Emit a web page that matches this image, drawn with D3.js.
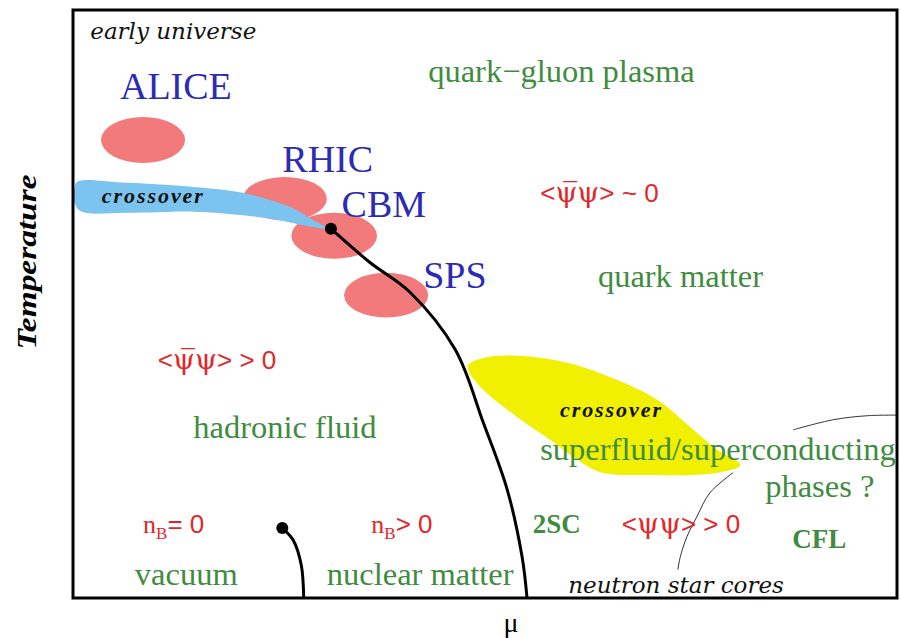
<!DOCTYPE html>
<html>
<head>
<meta charset="utf-8">
<script src="https://cdn.jsdelivr.net/npm/d3@7"></script>
<style>
body { margin: 0; background: #fff; }
</style>
</head>
<body>
<div id="diagram"></div>
<script>
//data (mu and T in arbitrary units, 0..100 across the frame)
var muBoundary = [31.3, 36.0, 40.9, 46.4, 49.8, 52.7, 54.5, 55.1];
var tBoundary = [62.8, 57.1, 52.0, 42.2, 29.8, 18.4, 7.0, 0];

var muNuclear = [25.4, 26.7, 27.7, 28.0];
var tNuclear = [11.9, 9.9, 5.6, 0];

var experiments = ["ALICE", "RHIC", "CBM", "SPS"];
var expMu = [8.5, 25.7, 31.7, 38.0];
var expT = [77.9, 67.9, 61.6, 51.5];
var expMuHalf = [5.1, 5.1, 5.2, 5.1];
var expTHalf = [3.9, 3.7, 3.9, 3.8];
var expLabelMu = [5.7, 25.4, 32.6, 42.5];
var expLabelT = [84.9, 72.5, 64.8, 52.7];

// blue crossover band (outline)
var bandMu = [0.5, 6.6, 14.6, 20.6, 26.7, 29.1, 31.0, 29.1, 24.8, 20.6, 14.6, 6.6, 0.9, 0.1, 0.2];
var bandT = [70.8, 70.6, 69.9, 68.9, 66.3, 64.3, 62.8, 63.1, 64.3, 65.1, 65.7, 65.5, 65.8, 67.7, 69.7];

// yellow crossover region (outline)
var crossMu = [47.9, 49.8, 53.9, 60.0, 66.0, 70.9, 74.9, 78.2, 81.0, 78.2, 70.0, 64.0, 61.2, 57.9, 53.9, 49.8];
var crossT = [39.4, 40.8, 41.2, 40.0, 37.1, 33.7, 29.1, 25.2, 22.6, 21.3, 20.9, 21.4, 23.5, 26.9, 30.8, 35.4];

// thin guide lines
var muStars = [80.1, 77.3, 75.7, 74.5, 73.7, 73.4];
var tStars = [21.3, 17.9, 13.8, 10.4, 7.0, 4.8];
var muCfl = [87.4, 92.2, 96.4, 100];
var tCfl = [28.6, 30.3, 31.0, 31.1];

// phase names
var phases = ["quark\u2212gluon plasma", "quark matter", "hadronic fluid", "vacuum",
    "nuclear matter", "superfluid/superconducting", "phases ?"];
var phaseMu = [43.1, 63.7, 14.6, 7.5, 30.8, 56.7, 84.0];
var phaseT = [87.8, 52.9, 27.2, 2.2, 2.2, 23.5, 17.2];

var pairings = ["2SC", "CFL"];
var pairMu = [55.8, 87.3];
var pairT = [11.0, 8.5];

// condensates
var condRel = ["~ 0", "> 0", "> 0"];
var condBar = [true, true, false];
var condMu = [56.7, 10.3, 66.6];
var condT = [67.4, 39.0, 11.0];

var densRel = ["= 0", "> 0"];
var densMu = [8.5, 36.2];
var densT = [11.0, 11.0];

var notes = ["early universe", "neutron star cores"];
var noteMu = [2.1, 60.1];
var noteT = [95.1, 0.85];

var crossLabelMu = [3.5, 59.1];
var crossLabelT = [67.2, 30.8];

//setup
var width = 901,
    height = 638;
var frameLeft = 73, frameRight = 897, frameTop = 10, frameBottom = 598;

var serif = "'Liberation Serif', 'Times New Roman', serif",
    sans = "'Liberation Sans', Arial, sans-serif";
var green = "#3f8c3f", red = "#e3262b", blue = "#2b2bb4";

var x = d3.scaleLinear().domain([0, 100]).range([frameLeft, frameRight]);
var y = d3.scaleLinear().domain([0, 100]).range([frameBottom, frameTop]);

var svg = d3.select("#diagram").append("svg")
    .attr("width", width)
    .attr("height", height);

var g = svg.append("g");

var line = d3.line()
    .x(function (d) { return x(d[0]); })
    .y(function (d) { return y(d[1]); });

//experiment blobs
g.selectAll(".blob").data(experiments)
    .enter().append("ellipse")
    .attr("class", "blob")
    .attr("cx", function (d, i) { return x(expMu[i]); })
    .attr("cy", function (d, i) { return y(expT[i]); })
    .attr("rx", function (d, i) { return x(expMuHalf[i]) - x(0); })
    .attr("ry", function (d, i) { return y(0) - y(expTHalf[i]); })
    .style("fill", "#f37a7a");

//crossover band and region
g.append("path")
    .attr("d", line.curve(d3.curveCatmullRomClosed)(d3.zip(bandMu, bandT)))
    .style("fill", "#7cc4f0");

g.append("path")
    .attr("d", line.curve(d3.curveCatmullRomClosed)(d3.zip(crossMu, crossT)))
    .style("fill", "#f0f000");

//thin lines
g.append("path")
    .attr("d", line.curve(d3.curveCatmullRom)(d3.zip(muStars, tStars)))
    .style("fill", "none").style("stroke", "#333").style("stroke-width", 1);
g.append("path")
    .attr("d", line.curve(d3.curveCatmullRom)(d3.zip(muCfl, tCfl)))
    .style("fill", "none").style("stroke", "#333").style("stroke-width", 1);

//phase boundaries
g.append("path")
    .attr("d", line.curve(d3.curveCatmullRom)(d3.zip(muBoundary, tBoundary)))
    .style("fill", "none").style("stroke", "#000").style("stroke-width", 3);
g.append("path")
    .attr("d", line.curve(d3.curveCatmullRom)(d3.zip(muNuclear, tNuclear)))
    .style("fill", "none").style("stroke", "#000").style("stroke-width", 3);

// end points
g.selectAll(".endpoint").data([[muBoundary[0], tBoundary[0]], [muNuclear[0], tNuclear[0]]])
    .enter().append("circle")
    .attr("cx", function (d) { return x(d[0]); })
    .attr("cy", function (d) { return y(d[1]); })
    .attr("r", 6)
    .style("fill", "#000");

//frame
g.append("rect")
    .attr("x", x(0))
    .attr("y", y(100))
    .attr("width", x(100) - x(0))
    .attr("height", y(0) - y(100))
    .style("fill", "none")
    .style("stroke", "#000")
    .style("stroke-width", 3);

//labels
g.selectAll(".exp").data(experiments)
    .enter().append("text")
    .attr("x", function (d, i) { return x(expLabelMu[i]); })
    .attr("y", function (d, i) { return y(expLabelT[i]); })
    .style("font-family", serif)
    .style("font-size", "38px")
    .style("fill", blue)
    .text(function (d) { return d; });

g.selectAll(".phase").data(phases)
    .enter().append("text")
    .attr("x", function (d, i) { return x(phaseMu[i]); })
    .attr("y", function (d, i) { return y(phaseT[i]); })
    .style("font-family", serif)
    .style("font-size", "32.5px")
    .style("fill", green)
    .text(function (d) { return d; });

g.selectAll(".pair").data(pairings)
    .enter().append("text")
    .attr("x", function (d, i) { return x(pairMu[i]); })
    .attr("y", function (d, i) { return y(pairT[i]); })
    .style("font-family", serif)
    .style("font-size", "27px")
    .style("font-weight", "bold")
    .style("fill", green)
    .text(function (d) { return d; });

// <psi-bar psi> : the bar is a combining overline on the first psi
g.selectAll(".cond").data(condRel)
    .enter().append("text")
    .attr("x", function (d, i) { return x(condMu[i]); })
    .attr("y", function (d, i) { return y(condT[i]); })
    .style("font-size", "26px")
    .style("fill", red)
    .each(function (d, i) {
        var t = d3.select(this);
        t.append("tspan").style("font-family", sans).text("<");
        t.append("tspan").style("font-family", "'DejaVu Serif', serif").style("font-size", "28px")
            .text(condBar[i] ? "\u03c8\u0305" : "\u03c8");
        t.append("tspan").style("font-family", "'DejaVu Serif', serif").style("font-size", "28px")
            .text("\u03c8");
        t.append("tspan").style("font-family", sans).text("> " + d);
    });

g.selectAll(".dens").data(densRel)
    .enter().append("text")
    .attr("x", function (d, i) { return x(densMu[i]); })
    .attr("y", function (d, i) { return y(densT[i]); })
    .style("font-size", "26px")
    .style("fill", red)
    .each(function (d) {
        var t = d3.select(this);
        t.append("tspan").style("font-family", serif).text("n");
        t.append("tspan").style("font-family", serif).style("font-size", "17px")
            .attr("dy", 6).text("B");
        t.append("tspan").style("font-family", sans).attr("dy", -6).text(d);
    });

g.selectAll(".note").data(notes)
    .enter().append("text")
    .attr("x", function (d, i) { return x(noteMu[i]); })
    .attr("y", function (d, i) { return y(noteT[i]); })
    .style("font-family", "'DejaVu Serif', serif")
    .style("font-style", "italic")
    .style("font-size", "23px")
    .style("fill", "#111")
    .text(function (d) { return d; });

g.selectAll(".cross").data(crossLabelMu)
    .enter().append("text")
    .attr("x", function (d) { return x(d); })
    .attr("y", function (d, i) { return y(crossLabelT[i]); })
    .attr("textLength", 101)
    .attr("lengthAdjust", "spacing")
    .style("font-family", serif)
    .style("font-style", "italic")
    .style("font-weight", "bold")
    .style("font-size", "22px")
    .style("fill", "#111")
    .text("crossover");

//axis labels
svg.append("text")
    .attr("transform", "translate(36,262) rotate(-90)")
    .attr("text-anchor", "middle")
    .attr("textLength", 175)
    .attr("lengthAdjust", "spacingAndGlyphs")
    .style("font-family", serif)
    .style("font-style", "italic")
    .style("font-weight", "bold")
    .style("font-size", "27px")
    .text("Temperature");

svg.append("text")
    .attr("x", 511)
    .attr("y", 632)
    .attr("text-anchor", "middle")
    .style("font-family", serif)
    .style("font-size", "28px")
    .text("\u03bc");
</script>
</body>
</html>
